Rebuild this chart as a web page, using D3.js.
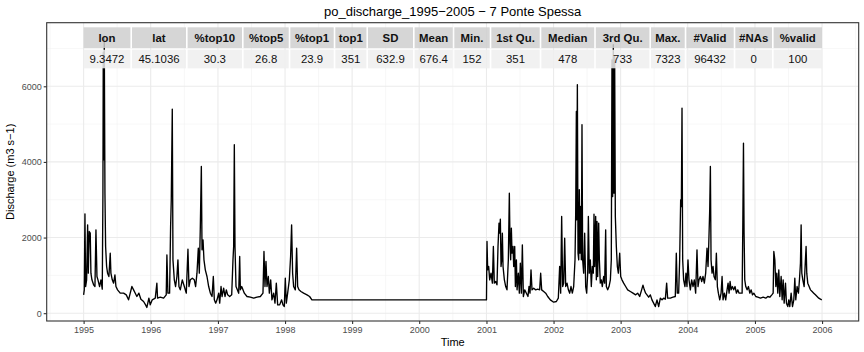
<html>
<head>
<title>po discharge</title>
<script src="https://d3js.org/d3.v7.min.js"></script>
<style>
body { margin: 0; background: #fff; }
svg { display: block; font-family: 'Liberation Sans', Arial, Helvetica, sans-serif; }
</style>
</head>
<body>
<div id="plot"></div>
<script>
// summary table (header + values)
var tableHead = ["lon", "lat", "%top10", "%top5", "%top1", "top1", "SD", "Mean", "Min.", "1st Qu.", "Median", "3rd Qu.", "Max.", "#Valid", "#NAs", "%valid"];
var tableVals = ["9.3472", "45.1036", "30.3", "26.8", "23.9", "351", "632.9", "676.4", "152", "351", "478", "733", "7323", "96432", "0", "100"];

var yTicks = [0, 2000, 4000, 6000];
var yMinor = [1000, 3000, 5000, 7000];

// discharge series (decimal year, m3/s)
var years1 = [1995.000,1995.010,1995.020,1995.030,1995.045,1995.060,1995.070,1995.084,1995.099,1995.109,1995.124,1995.149,1995.169,1995.184,1995.199,1995.214,1995.238,1995.258,1995.278,1995.288,1995.293,1995.303,1995.308,1995.318,1995.328,1995.343,1995.357,1995.377,1995.397,1995.407,1995.427,1995.447,1995.467,1995.482,1995.506,1995.546,1995.596,1995.636,1995.670,1995.695,1995.720,1995.745,1995.770,1995.794,1995.824,1995.854,1995.894,1995.924,1995.943,1995.973,1995.993,
  1996.023,1996.068,1996.092,1996.102,1996.142,1996.192,1996.231,1996.241,1996.256,1996.281,1996.296,1996.306,1996.321,1996.331,1996.351,1996.370,1996.390,1996.405,1996.420,1996.440,1996.470,1996.500,1996.529,1996.554,1996.569,1996.589,1996.619,1996.648,1996.668,1996.688,1996.708,1996.723,1996.738,1996.753,1996.763,1996.778,1996.792,1996.812,1996.837,1996.862,1996.887,1996.912,1996.931,1996.946,1996.966,1996.986,
  1997.011,1997.026,1997.046,1997.061,1997.085,1997.105,1997.125,1997.145,1997.175,1997.205,1997.224,1997.234,1997.244,1997.254,1997.269,1997.289,1997.309,1997.324,1997.334,1997.354,1997.373,1997.393,1997.433,1997.483,1997.532,1997.582,1997.632,1997.671,1997.686,1997.701,1997.716,1997.731,1997.751,1997.766,1997.786,1997.805,1997.830,1997.850,1997.870,1997.890,1997.920,1997.949,1997.969,1997.989,
  1998.004,1998.019,1998.039,1998.064,1998.083,1998.098,1998.113,1998.128,1998.153,1998.173,1998.188,1998.208,1998.237,1998.277,1998.327,1998.366,1998.401,1998.416];
var flow1 = [485,617,2628,705,882,2337,1058,2160,2116,1058,882,750,705,2205,970,882,705,882,635,3174,6900,4056,7323,3174,1764,1235,1058,970,1587,1058,882,794,1014,705,617,529,529,485,353,529,705,617,529,441,529,370,309,220,152,397,220,
  353,397,794,397,423,397,485,1543,529,529,2293,2998,5397,1411,882,705,970,1411,705,617,882,705,529,1693,705,882,926,882,705,1058,1720,1058,2293,3880,1675,1940,1411,1146,970,705,529,441,970,353,265,353,
  529,265,705,441,661,441,617,485,441,485,1411,1764,4453,1764,705,617,529,1499,617,705,617,529,441,423,397,423,441,529,1631,705,1367,705,970,529,882,353,529,265,794,220,220,353,220,176,
  926,265,529,882,1499,2337,1058,705,617,1720,705,617,573,529,485,441,353,351];

var years2 = [2001.000,2001.008,2001.018,2001.033,2001.048,2001.068,2001.088,2001.103,2001.117,2001.137,2001.157,2001.172,2001.187,2001.197,2001.207,2001.217,2001.227,2001.237,2001.247,2001.267,2001.287,2001.306,2001.326,2001.341,2001.351,2001.361,2001.371,2001.381,2001.396,2001.406,2001.421,2001.431,2001.446,2001.456,2001.475,2001.490,2001.505,2001.520,2001.535,2001.550,2001.570,2001.595,2001.619,2001.634,2001.649,2001.664,2001.679,2001.704,2001.734,2001.764,2001.793,2001.808,2001.823,2001.853,2001.883,2001.913,2001.952,
  2002.002,2002.042,2002.071,2002.091,2002.106,2002.121,2002.136,2002.151,2002.166,2002.181,2002.201,2002.221,2002.241,2002.260,2002.280,2002.300,2002.320,2002.330,2002.340,2002.345,2002.355,2002.365,2002.375,2002.384,2002.394,2002.404,2002.414,2002.424,2002.434,2002.449,2002.464,2002.479,2002.494,2002.509,2002.519,2002.533,2002.548,2002.563,2002.578,2002.593,2002.603,2002.613,2002.628,2002.638,2002.648,2002.658,2002.673,2002.683,2002.697,2002.712,2002.727,2002.747,2002.762,2002.777,2002.787,2002.807,2002.827,2002.847,2002.861,2002.871,2002.881,2002.891,2002.901,2002.911,2002.921,2002.936,2002.951,2002.966,2002.986,
  2003.001,2003.020,2003.045,2003.075,2003.105,2003.145,2003.184,2003.224,2003.254,2003.284,2003.313,2003.333,2003.353,2003.373,2003.393,2003.418,2003.443,2003.467,2003.492,2003.517,2003.542,2003.567,2003.592,2003.617,2003.641,2003.666,2003.686,2003.701,2003.741,2003.780,2003.815,2003.830,2003.845,2003.865,2003.880,2003.895,2003.905,2003.915,2003.925,2003.939,2003.959,2003.974,2003.989,
  2004.004,2004.019,2004.039,2004.059,2004.079,2004.098,2004.118,2004.138,2004.153,2004.168,2004.188,2004.208,2004.227,2004.247,2004.267,2004.287,2004.302,2004.312,2004.327,2004.337,2004.347,2004.362,2004.377,2004.391,2004.411,2004.426,2004.441,2004.456,2004.476,2004.496,2004.511,2004.525,2004.545,2004.565,2004.585,2004.600,2004.615,2004.630,2004.645,2004.664,2004.684,2004.704,2004.724,2004.744,2004.764,2004.784,2004.809,2004.819,2004.829,2004.838,2004.848,2004.863,2004.883,2004.903,2004.923,2004.943,2004.963,2004.983,
  2005.012,2005.042,2005.082,2005.122,2005.161,2005.191,2005.221,2005.251,2005.271,2005.281,2005.296,2005.311,2005.325,2005.340,2005.355,2005.370,2005.390,2005.405,2005.420,2005.435,2005.455,2005.469,2005.489,2005.504,2005.519,2005.539,2005.559,2005.579,2005.594,2005.608,2005.628,2005.648,2005.663,2005.678,2005.688,2005.698,2005.713,2005.733,2005.752,2005.762,2005.772,2005.787,2005.807,2005.827,2005.852,2005.876,2005.901,2005.926,2005.951,2005.976,2005.996];
var flow2 = [351,1896,1146,1235,882,1058,794,1764,794,838,750,1764,2381,2116,2487,1235,1411,2116,1235,882,705,617,1411,3174,1852,1411,2249,1587,1764,1235,1764,705,1411,617,1058,529,1323,529,1808,441,617,529,441,705,529,1146,617,661,617,635,617,1058,617,573,529,441,353,
  291,309,397,1235,529,2557,705,794,1984,705,794,617,529,705,529,705,1411,2645,5335,2469,6040,1587,1411,3263,1587,2822,1411,4982,1411,1058,2116,705,529,1058,2557,1058,1411,705,1235,1058,2619,1235,2557,882,2425,970,2381,1411,794,882,705,970,794,2205,705,617,705,882,1411,6700,3086,7100,3174,6800,2557,1764,1235,1058,1587,
  970,882,794,705,617,573,529,485,529,441,617,741,617,529,485,423,485,353,265,176,353,176,397,353,397,370,794,397,397,423,441,1587,529,529,1411,2998,2822,5423,1411,882,705,1058,705,
  1411,882,617,882,705,882,529,1675,705,882,970,838,970,794,1058,1720,1235,1764,2734,3880,1411,1058,1235,970,882,1587,705,529,353,529,970,353,529,353,617,794,529,838,617,705,617,705,529,617,529,529,529,2293,4497,2116,882,705,617,705,529,617,485,529,
  441,423,397,423,397,441,423,485,529,1631,1411,705,1058,529,1146,441,970,353,882,265,794,265,176,353,176,529,176,353,926,353,705,529,882,1323,2337,1058,882,705,1411,1764,1058,794,705,617,573,529,485,441,397,370,353];

var W = 864, H = 352;
var margin = {top: 22.7, right: 5.3, bottom: 31, left: 46.7};
var pw = W - margin.left - margin.right, ph = H - margin.top - margin.bottom;

// column pitch of the summary table, px
var colPitch = [48.4, 55.6, 56, 46.7, 45, 32.7, 46.6, 39.7, 37, 50, 54.5, 55.2, 35.3, 49, 38.3, 50];

function decToDate(y) {
  var yr = Math.floor(y);
  var s = Date.UTC(yr, 0, 1), e = Date.UTC(yr + 1, 0, 1);
  return new Date(s + (y - yr) * (e - s));
}

var data = [];
var allYears = years1.concat(years2), allFlow = flow1.concat(flow2);
allYears.forEach(function(yv, i) {
  data.push({date: decToDate(yv), q: allFlow[i]});
});

var svg = d3.select("#plot").append("svg").attr("width", W).attr("height", H);

// ggplot style 5% expansion
var xe = d3.extent(data, function(d) { return d.date; });
var xpad = (xe[1] - xe[0]) * 0.05;
var x = d3.scaleUtc().domain([new Date(+xe[0] - xpad), new Date(+xe[1] + xpad)]).range([0, pw]);
var ye = d3.extent(data, function(d) { return d.q; });
var ypad = (ye[1] - ye[0]) * 0.05;
var y = d3.scaleLinear().domain([ye[0] - ypad, ye[1] + ypad]).range([ph, 0]);

var g = svg.append("g").attr("transform", "translate(" + margin.left + "," + margin.top + ")");

var xTicks = d3.utcYear.range(d3.utcYear.ceil(x.domain()[0]), x.domain()[1]);
var xMinor = [];
for (var i = 0; i < xTicks.length - 1; i++) xMinor.push(new Date((+xTicks[i] + +xTicks[i + 1]) / 2));
xMinor.unshift(new Date(+xTicks[0] - (xTicks[1] - xTicks[0]) / 2));
xMinor.push(new Date(+xTicks[xTicks.length - 1] + (xTicks[1] - xTicks[0]) / 2));

// grid
g.selectAll(".ymin").data(yMinor).enter().append("line")
  .attr("x1", 0).attr("x2", pw).attr("y1", y).attr("y2", y)
  .attr("stroke", "#f2f2f2").attr("stroke-width", 0.6);
g.selectAll(".xmin").data(xMinor.filter(function(d) { return x(d) > 0 && x(d) < pw; })).enter().append("line")
  .attr("y1", 0).attr("y2", ph).attr("x1", x).attr("x2", x)
  .attr("stroke", "#f2f2f2").attr("stroke-width", 0.6);
g.selectAll(".ymaj").data(yTicks).enter().append("line")
  .attr("x1", 0).attr("x2", pw).attr("y1", y).attr("y2", y)
  .attr("stroke", "#ebebeb").attr("stroke-width", 1.1);
g.selectAll(".xmaj").data(xTicks).enter().append("line")
  .attr("y1", 0).attr("y2", ph).attr("x1", x).attr("x2", x)
  .attr("stroke", "#ebebeb").attr("stroke-width", 1.1);

// the series
var line = d3.line()
  .x(function(d) { return x(d.date); })
  .y(function(d) { return y(d.q); });
g.append("path").datum(data)
  .attr("fill", "none").attr("stroke", "#000").attr("stroke-width", 1.35)
  .attr("stroke-linejoin", "round")
  .attr("d", line);

// table over the panel (semi transparent, like the tableGrob)
var tx0 = x(decToDate(1995));
var ty = 27.3 - margin.top;
var tg = g.append("g");
var cx = tx0;
colPitch.forEach(function(p, i) {
  tg.append("rect").attr("x", cx).attr("y", ty).attr("width", p - 1.6).attr("height", 20.8)
    .attr("fill", "#cfcfcf").attr("fill-opacity", 0.85);
  tg.append("rect").attr("x", cx).attr("y", ty + 22.4).attr("width", p - 1.6).attr("height", 18.6)
    .attr("fill", "#efefef").attr("fill-opacity", 0.85);
  tg.append("text").attr("x", cx + (p - 1.6) / 2).attr("y", ty + 14.6)
    .attr("text-anchor", "middle").attr("font-size", 11.4).attr("font-weight", "bold")
    .attr("fill", "#111").text(tableHead[i]);
  tg.append("text").attr("x", cx + (p - 1.6) / 2).attr("y", ty + 35.8)
    .attr("text-anchor", "middle").attr("font-size", 11.4)
    .attr("fill", "#111").text(tableVals[i]);
  cx += p;
});

// panel border
g.append("rect").attr("width", pw).attr("height", ph)
  .attr("fill", "none").attr("stroke", "#333").attr("stroke-width", 1.1);

// axes
var xAxis = g.append("g").attr("transform", "translate(0," + ph + ")")
  .call(d3.axisBottom(x).tickValues(xTicks).tickFormat(d3.utcFormat("%Y")).tickSize(3).tickPadding(3));
var yAxis = g.append("g")
  .call(d3.axisLeft(y).tickValues(yTicks).tickSize(3).tickPadding(2).tickFormat(d3.format("d")));
[xAxis, yAxis].forEach(function(a) {
  a.select(".domain").remove();
  a.selectAll("line").attr("stroke", "#333").attr("stroke-width", 1.1);
  a.selectAll("text").attr("fill", "#4d4d4d").attr("font-size", 9)
    .attr("font-family", "'Liberation Sans', Arial, sans-serif");
});

// titles
svg.append("text").attr("x", margin.left + pw / 2).attr("y", 16)
  .attr("text-anchor", "middle").attr("font-size", 13)
  .text("po_discharge_1995\u22122005 \u2212 7 Ponte Spessa");
svg.append("text").attr("x", margin.left + pw / 2).attr("y", 346)
  .attr("text-anchor", "middle").attr("font-size", 11).text("Time");
svg.append("text").attr("text-anchor", "middle").attr("font-size", 11)
  .attr("transform", "translate(14," + (margin.top + ph / 2) + ")rotate(-90)")
  .text("Discharge (m3 s\u22121)");
</script>
</body>
</html>
